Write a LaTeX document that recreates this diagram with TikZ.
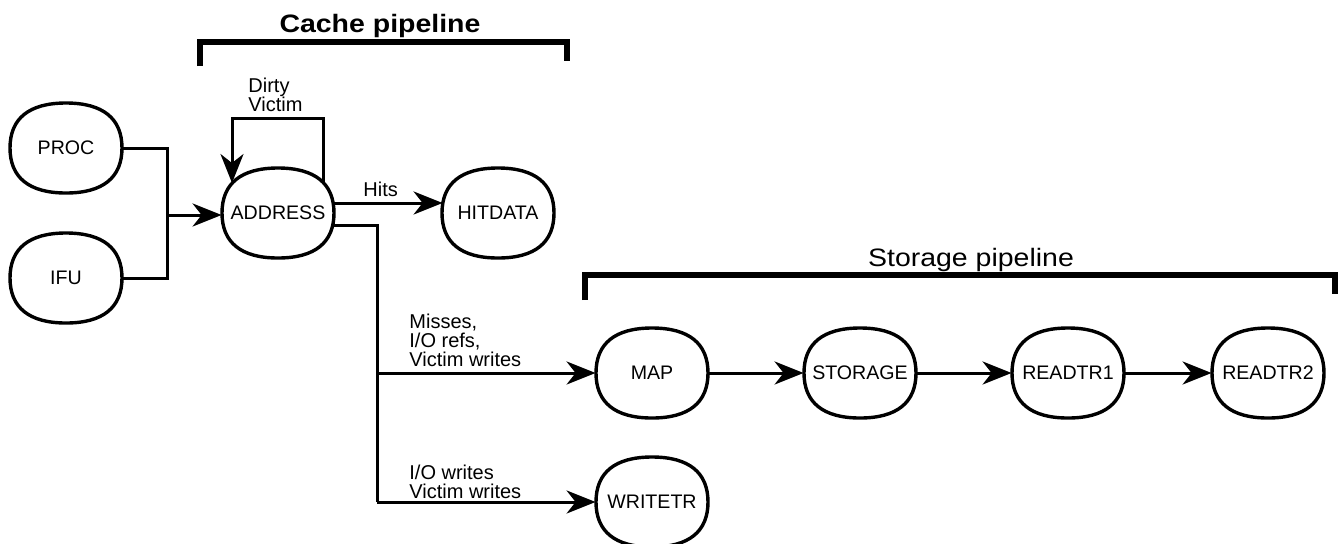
\documentclass[tikz,border=0pt]{standalone}
\usepackage{fontspec}
\setmainfont{Liberation Sans}
\newfontfamily\titlefont[FakeStretch=1.13]{Liberation Sans}
\usetikzlibrary{arrows.meta,calc}
\pgfdeclarelayer{bg}
\pgfdeclarelayer{shapes}
\pgfsetlayers{bg,shapes,main}
% outline of a stage: a rounded oval round the node's centre
\newcommand\stgshape[1]{%
  \begin{pgfonlayer}{shapes}
  \path[stageline] ($(#1.center)+(56,0)$)
    .. controls +(0,-29.5) and +(37,0) .. ($(#1.center)+(0,-45)$)
    .. controls +(-37,0) and +(0,-29.5) .. ($(#1.center)+(-56,0)$)
    .. controls +(0,29.5) and +(-37,0) .. ($(#1.center)+(0,45)$)
    .. controls +(37,0) and +(0,29.5) .. ($(#1.center)+(56,0)$) -- cycle;
  \end{pgfonlayer}}
\begin{document}
\begin{tikzpicture}[x=0.5pt,y=-0.5pt,
  stage/.style={minimum width=56pt, minimum height=45pt, inner sep=0pt,
    font=\fontsize{9.8}{11}\selectfont},
  stageline/.style={draw, fill=white, line width=1.7pt, line join=round},
  wire/.style={line width=1.5pt},
  arr/.style={wire, -{Stealth[length=14.5pt,width=11.5pt,inset=4.5pt]}},
  brace/.style={line width=3.2pt},
  lab/.style={font=\fontsize{10}{9.5}\selectfont, align=left, inner sep=0pt, anchor=north west},
  title/.style={inner sep=0pt, anchor=base}]
\useasboundingbox (0,0) rectangle (1340,543);

% stages
\node[stage] (proc) at (66,148) {PROC};
\node[stage] (ifu) at (66,278) {IFU};
\node[stage] (address) at (278,213) {ADDRESS};
\node[stage] (hitdata) at (498,213) {HITDATA};
\node[stage] (map) at (652,373) {MAP};
\node[stage] (storage) at (860,373) {STORAGE};
\node[stage] (readtr1) at (1068,373) {READTR1};
\node[stage] (readtr2) at (1268,373) {READTR2};
\node[stage] (writetr) at (652,502) {WRITETR};
\foreach \n in {proc,ifu,address,hitdata,map,storage,readtr1,readtr2,writetr}
  {\stgshape{\n}}

% labels
\node[lab] (dv) at (248,78) {Dirty\\Victim};
\node[font=\fontsize{10}{12}\selectfont, inner sep=0pt, anchor=base west] (hits) at (363,196) {Hits};
\node[lab] (ml) at (409,314) {Misses,\\I/O refs,\\Victim writes};
\node[lab] (wl) at (409,465) {I/O writes\\Victim writes};

% titles and brackets
\node[title, font=\titlefont\bfseries\fontsize{12.6}{14}\selectfont] (ct) at (380,32) {Cache pipeline};
\node[title, font=\titlefont\fontsize{12.6}{14}\selectfont] (st) at (971,266) {Storage pipeline};
\draw[brace] (200,66) -- (200,42) -- (567,42) -- (567,61);
\draw[brace] (585,300) -- (585,275) -- (1335,275) -- (1335,294);

% connectors
\coordinate (jn) at (167,215);
\coordinate (lr) at (323,118);
\coordinate (ll) at (232,118);
\coordinate (bt) at (377,225);
\coordinate (bb) at (bt |- writetr.west);
\coordinate (bm) at (bt |- map.west);
\begin{pgfonlayer}{bg}
\draw[wire] (proc.east) -| (jn);
\draw[wire] (ifu.east) -| (jn);
\draw[arr] (jn) -- (jn -| address.west);
\draw[arr] ($(address.center)+(45,-25)$) -- (lr) -- (ll) -- ($(address.center)+(-46,-30)$);
\draw[arr] ($(address.east)+(-2,-10)$) -- ($(hitdata.west)+(1,-10)$);
\draw[wire] ($(address.east)+(-2,12)$) -- (bt) -- (bb);
\draw[arr] (bb) -- (writetr.west);
\draw[arr] (bm) -- (map.west);
\draw[arr] (map) -- (storage);
\draw[arr] (storage) -- (readtr1);
\draw[arr] (readtr1) -- (readtr2);
\end{pgfonlayer}
\end{tikzpicture}
\end{document}
